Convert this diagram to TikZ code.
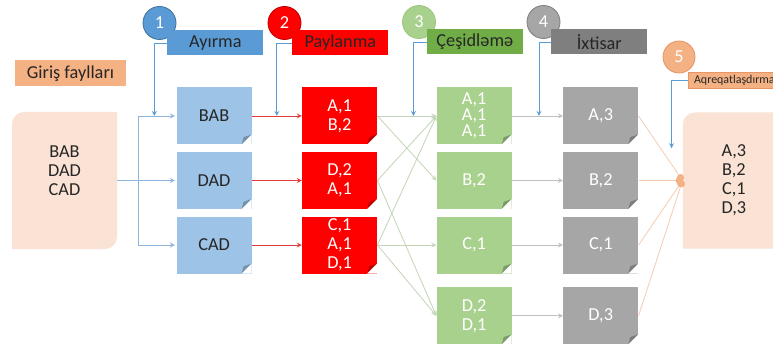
\documentclass[tikz,border=0pt]{standalone}
\usepackage{fontspec}
\setmainfont{Carlito}
\usepackage{tikz}
\usetikzlibrary{shapes.geometric, arrows, arrows.meta, positioning, calc}

\definecolor{fileback}{RGB}{250,227,213}
\definecolor{peachdark}{RGB}{244,177,131}
\definecolor{peachrim}{RGB}{230,150,100}
\definecolor{stepblue}{RGB}{91,155,213}
\definecolor{stepbluerim}{RGB}{65,113,156}
\definecolor{noteblue}{RGB}{157,195,230}
\definecolor{stepred}{RGB}{255,0,0}
\definecolor{stepredrim}{RGB}{192,0,0}
\definecolor{stepgreen}{RGB}{112,173,71}
\definecolor{notegreen}{RGB}{169,209,142}
\definecolor{stepgray}{RGB}{127,127,127}
\definecolor{notegray}{RGB}{166,166,166}
\definecolor{inkdark}{RGB}{38,38,38}
\definecolor{feedblue}{RGB}{143,180,217}
\definecolor{linered}{RGB}{224,60,60}
\definecolor{linegreen}{RGB}{197,214,184}
\definecolor{linegray}{RGB}{191,191,191}
\definecolor{linepeach}{RGB}{244,205,180}

\tikzstyle{notebox} = [rectangle, minimum width=1.875cm, minimum height=1.425cm, inner sep=1pt, align=center, text=white, path picture={
    \fill[white] ([xshift=-0.25cm]path picture bounding box.south east) -- (path picture bounding box.south east) -- ([yshift=0.25cm]path picture bounding box.south east) -- cycle;
    \fill[black, opacity=0.25] ([xshift=-0.25cm]path picture bounding box.south east) -- ([yshift=0.25cm]path picture bounding box.south east) -- ([xshift=-0.2cm, yshift=0.18cm]path picture bounding box.south east) -- cycle;}]
\tikzstyle{filebox} = [rectangle, fill=white, text=inkdark, align=center, inner sep=1pt, path picture={
    \fill[fileback] (path picture bounding box.south west) -- ([yshift=-0.3cm]path picture bounding box.north west) arc[start angle=180, end angle=90, radius=0.3cm] -- (path picture bounding box.north east) -- ([yshift=0.3cm]path picture bounding box.south east) arc[start angle=0, end angle=-90, radius=0.3cm] -- cycle;}]
\tikzstyle{stepdot} = [circle, minimum size=0.825cm, inner sep=0pt, line width=0.6pt, text=white]
\tikzstyle{steptag} = [rectangle, minimum width=2.4cm, minimum height=0.625cm, inner sep=1pt, text=inkdark]
\tikzstyle{cue} = [->, >=stealth, line width=0.6pt, draw=stepblue]
\tikzstyle{feed} = [->, >=stealth, line width=0.6pt, draw=feedblue, shorten >=1pt]
\tikzstyle{redline} = [->, >=stealth, line width=0.6pt, draw=linered]
\tikzstyle{greenline} = [->, >=stealth, line width=0.6pt, draw=linegreen]
\tikzstyle{grayline} = [->, >=stealth, line width=0.6pt, draw=linegray]
\tikzstyle{peachline} = [-{Circle[length=5pt, color=peachdark]}, line width=0.6pt, draw=linepeach]

\begin{document}
\begin{tikzpicture}[node distance=0.175cm, >=stealth, font=\fontsize{13}{13.5}\selectfont]
    \useasboundingbox (0,0) rectangle (19.325,8.6);
    % step numbers
    \node (c1) [stepdot, fill=stepblue, draw=stepbluerim] at (3.9875,8.025) {1};
    \node (c2) [stepdot, fill=stepred, draw=stepredrim] at (7.1125,8.025) {2};
    \node (c3) [stepdot, fill=notegreen, draw=stepgreen!70] at (10.475,8.05) {3};
    \node (c4) [stepdot, fill=notegray, draw=stepgray] at (13.5875,8.05) {4};
    \node (c5) [stepdot, minimum size=0.8cm, fill=peachdark, draw=peachrim] at (16.975,7.175) {5};
    \node (ayirma) [steptag, fill=stepblue, below right=-0.12cm and -0.11cm of c1] {Ayırma};
    \node (paylanma) [steptag, fill=stepred, below right=-0.12cm and -0.11cm of c2] {Paylanma};
    \node (cesidleme) [steptag, fill=stepgreen, below right=-0.12cm and -0.11cm of c3] {Çeşidləmə};
    \node (ixtisar) [steptag, fill=stepgray, below right=-0.12cm and -0.11cm of c4] {İxtisar};
    \node (aqreq) [steptag, fill=peachdark, draw=peachrim, line width=0.5pt, minimum width=2.3cm, minimum height=0.4cm, font=\fontsize{8.5}{9}\selectfont, below right=0.085cm and -0.065cm of c5] {Aqreqatlaşdırma};

    % input
    \node (input) [filebox, minimum width=2.625cm, minimum height=3.425cm] at (1.6125,4.0875) {BAB\\DAD\\CAD\\~};
    \node (giris) [steptag, fill=peachdark, minimum width=2.775cm, minimum height=0.65cm, above right=0.625cm and 0.075cm of input.north west] {Giriş faylları};

    % splits
    \node (dad) [notebox, fill=noteblue, text=inkdark, right=1.475cm of input] {DAD};
    \node (bab) [notebox, fill=noteblue, text=inkdark, above=of dad] {BAB};
    \node (cad) [notebox, fill=noteblue, text=inkdark, below=of dad] {CAD};

    % map
    \node (map1) [notebox, fill=stepred, right=1.25cm of bab] {A,1\\B,2};
    \node (map2) [notebox, fill=stepred, right=1.25cm of dad] {D,2\\A,1};
    \node (map3) [notebox, fill=stepred, right=1.25cm of cad] {C,1\\A,1\\D,1};

    % sort
    \node (sortA) [notebox, fill=notegreen, right=1.475cm of map1] {A,1\\[-2pt]A,1\\[-2pt]A,1};
    \node (sortB) [notebox, fill=notegreen, right=1.475cm of map2] {B,2};
    \node (sortC) [notebox, fill=notegreen, right=1.475cm of map3] {C,1};
    \node (sortD) [notebox, fill=notegreen, below=0.33cm of sortC] {D,2\\D,1};

    % reduce
    \node (redA) [notebox, fill=notegray, right=1.275cm of sortA] {A,3};
    \node (redB) [notebox, fill=notegray, right=1.275cm of sortB] {B,2};
    \node (redC) [notebox, fill=notegray, right=1.275cm of sortC] {C,1};
    \node (redD) [notebox, fill=notegray, right=1.275cm of sortD] {D,3};

    % output
    \node (output) [filebox, minimum width=2.55cm, minimum height=3.4cm, right=1.1cm of redB] {A,3\\B,2\\C,1\\D,3};

    \coordinate (split) at ([xshift=0.525cm]input.east);
    \coordinate (cue1) at ([xshift=-0.55cm]bab.west);
    \coordinate (cue2) at ([xshift=-0.625cm]map1.west);
    \coordinate (cue3) at ([xshift=-0.575cm]sortA.west);
    \coordinate (cue4) at ([xshift=-0.6cm]redA.west);
    \coordinate (cue5) at ([xshift=-0.275cm, yshift=-0.9cm]output.north west);

    \draw [feed] (input.east) -- (dad.west);
    \draw [feed] (split) |- (bab.west);
    \draw [feed] (split) |- (cad.west);

    \draw [redline] (bab) -- (map1);
    \draw [redline] (dad) -- (map2);
    \draw [redline] (cad) -- (map3);

    \draw [greenline] (map1.east) -- (sortA.west);
    \draw [greenline] (map1.east) -- (sortB.west);
    \draw [greenline] (map2.east) -- (sortA.west);
    \draw [greenline] (map2.east) -- (sortD.west);
    \draw [greenline] (map3.east) -- (sortA.west);
    \draw [greenline] (map3.east) -- (sortC.west);
    \draw [greenline] (map3.east) -- (sortD.west);

    \draw [grayline] (sortA) -- (redA);
    \draw [grayline] (sortB) -- (redB);
    \draw [grayline] (sortC) -- (redC);
    \draw [grayline] (sortD) -- (redD);

    \draw [peachline] (redA.east) -- (output.west);
    \draw [peachline] (redB.east) -- (output.west);
    \draw [peachline] (redC.east) -- (output.west);
    \draw [peachline] (redD.east) -- (output.west);

    \draw [cue] (ayirma.west) -| (cue1);
    \draw [cue] (paylanma.west) -| (cue2);
    \draw [cue] (cesidleme.west) -| (cue3);
    \draw [cue] (ixtisar.west) -| (cue4);
    \draw [cue] (aqreq.west) -| (cue5);
\end{tikzpicture}
\end{document}
